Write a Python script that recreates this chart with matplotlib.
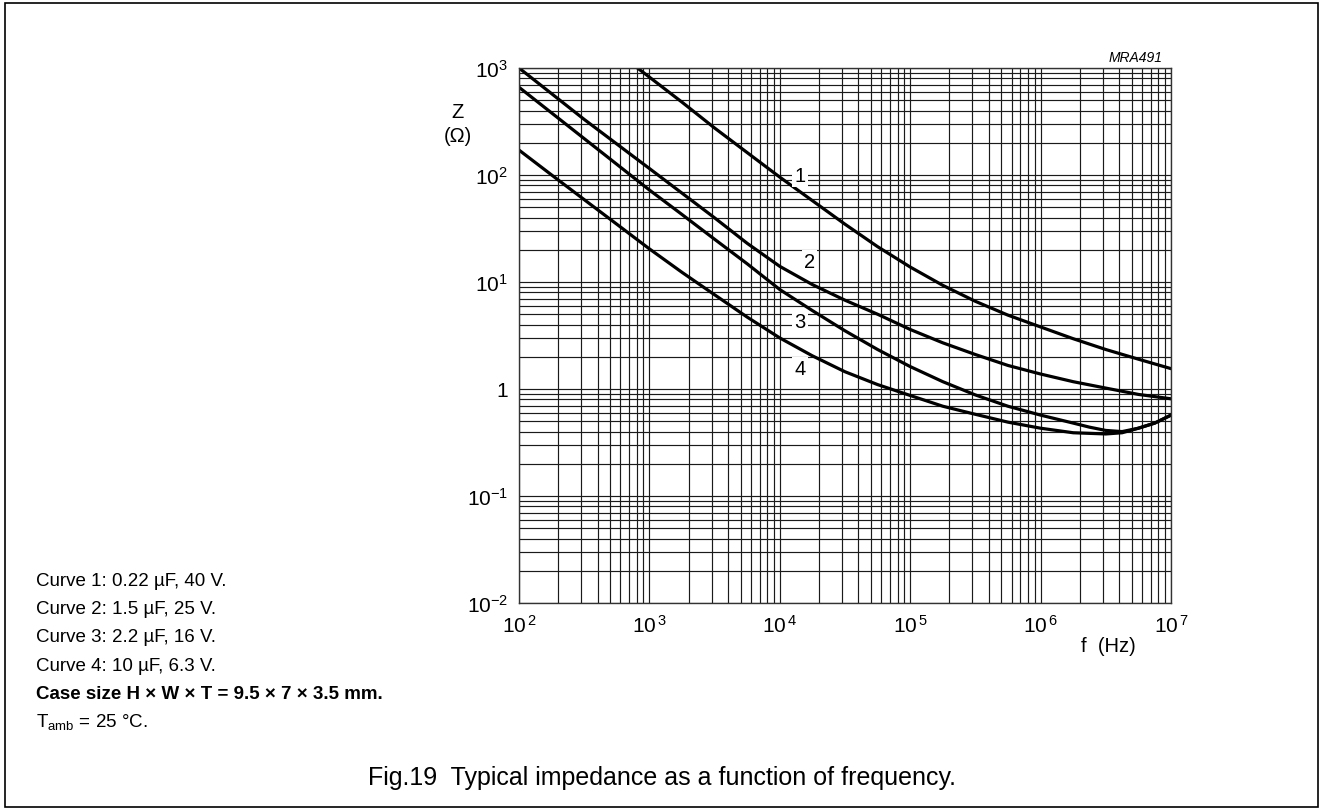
import matplotlib
matplotlib.use('Agg')
import matplotlib.pyplot as plt
from matplotlib.patches import Rectangle
from matplotlib.ticker import LogLocator, NullFormatter

plt.rcParams['font.family'] = ['Liberation Sans', 'DejaVu Sans']
plt.rcParams['mathtext.fontset'] = 'custom'
plt.rcParams['mathtext.rm'] = 'Liberation Sans'
plt.rcParams['mathtext.it'] = 'Liberation Sans:italic'
plt.rcParams['mathtext.bf'] = 'Liberation Sans:bold'

# frequencies (Hz)
freq_1 = [8.1e2, 1.0e3, 1.78e3, 3.16e3, 5.62e3, 1.0e4, 1.78e4, 3.16e4,
          5.62e4, 1.0e5, 1.78e5, 3.16e5, 5.62e5, 1.0e6, 1.78e6, 3.16e6,
          5.62e6, 1.0e7]
freq_2 = [1.0e2, 1.78e2, 3.16e2, 5.62e2, 1.0e3, 1.78e3, 3.16e3, 5.62e3,
          1.0e4, 1.78e4, 3.16e4, 5.62e4, 1.0e5, 1.78e5, 3.16e5, 5.62e5,
          1.0e6, 1.78e6, 3.16e6, 5.62e6, 1.0e7]
freq_34 = [1.0e2, 1.78e2, 3.16e2, 5.62e2, 1.0e3, 1.78e3, 3.16e3, 5.62e3,
           1.0e4, 1.78e4, 3.16e4, 5.62e4, 1.0e5, 1.78e5, 3.16e5, 5.62e5,
           1.0e6, 1.78e6, 2.37e6, 3.16e6, 4.22e6, 5.62e6, 7.5e6, 1.0e7]

# impedance (ohm)
z_curve1 = [1000, 822, 479, 275, 162, 95.5, 57.5, 34.7, 21.4, 13.8, 9.3,
            6.6, 4.9, 3.8, 2.95, 2.34, 1.9, 1.55]
z_curve2 = [1000, 575, 331, 195, 115, 67.6, 39.8, 23.0, 14.0, 9.45, 6.76,
            5.0, 3.6, 2.7, 2.1, 1.66, 1.38, 1.17, 1.02, 0.89, 0.81]
z_curve3 = [661, 380, 219, 126, 72.4, 42.7, 25.1, 14.8, 8.5, 5.4, 3.5,
            2.34, 1.62, 1.17, 0.88, 0.69, 0.57, 0.48, 0.44, 0.41, 0.40,
            0.43, 0.48, 0.57]
z_curve4 = [171, 100, 58.9, 34.7, 20.4, 12.3, 7.6, 4.7, 3.0, 2.04, 1.45,
            1.10, 0.87, 0.69, 0.58, 0.49, 0.43, 0.39, 0.385, 0.38, 0.39,
            0.43, 0.48, 0.57]

curve_labels = ['1', '2', '3', '4']
label_pos = [(1.43e4, 98), (1.7e4, 15.7), (1.43e4, 4.23), (1.43e4, 1.54)]

notes = ['Curve 1: 0.22 \u00b5F, 40 V.',
         'Curve 2: 1.5 \u00b5F, 25 V.',
         'Curve 3: 2.2 \u00b5F, 16 V.',
         'Curve 4: 10 \u00b5F, 6.3 V.']
case_note = 'Case size H \u00d7 W \u00d7 T = 9.5 \u00d7 7 \u00d7 3.5 mm.'
temp_note = 'T$_{\\mathregular{amb}}$ = 25 \u00b0C.'

W, H = 1326, 812
fig = plt.figure(figsize=(W / 100, H / 100), dpi=100)
ax = fig.add_axes([519 / W, 1 - 604 / H, (1171 - 519) / W, (604 - 69) / H])

ax.set_xscale('log')
ax.set_yscale('log')
ax.set_xlim(1e2, 1e7)
ax.set_ylim(1e-2, 1e3)

ax.xaxis.set_minor_locator(LogLocator(base=10, subs=range(2, 10)))
ax.yaxis.set_minor_locator(LogLocator(base=10, subs=range(2, 10)))
ax.xaxis.set_minor_formatter(NullFormatter())
ax.yaxis.set_minor_formatter(NullFormatter())
ax.grid(which='both', color='#1a1a1a', lw=0.85)
ax.set_axisbelow(True)

ax.set_xticks([1e2, 1e3, 1e4, 1e5, 1e6, 1e7])
ax.set_xticklabels([r'$\mathregular{10^{\,%d}}$' % e for e in range(2, 8)])
ax.set_yticks([1e-2, 1e-1, 1, 1e1, 1e2, 1e3])
ax.set_yticklabels([r'$\mathregular{10^{-2}}$', r'$\mathregular{10^{-1}}$', '1',
                    r'$\mathregular{10^{1}}$', r'$\mathregular{10^{2}}$',
                    r'$\mathregular{10^{3}}$'])
ax.tick_params(which='both', length=0, labelsize=15)
ax.tick_params(axis='x', pad=8)
ax.tick_params(axis='y', pad=8)
for s in ax.spines.values():
    s.set_linewidth(1.0)
    s.set_color('#333333')

lw = 2.3
ax.plot(freq_1, z_curve1, color='black', lw=lw)
ax.plot(freq_2, z_curve2, color='black', lw=lw)
ax.plot(freq_34, z_curve3, color='black', lw=lw)
ax.plot(freq_34, z_curve4, color='black', lw=lw)

for lab, (x, y) in zip(curve_labels, label_pos):
    ax.text(x, y, lab, ha='center', va='center', fontsize=14.5, zorder=5,
            bbox=dict(fc='white', ec='none', pad=1.5))

# axis titles
fig.text(458 / W, 1 - 112 / H, 'Z', ha='center', va='center', fontsize=14.5)
fig.text(458 / W, 1 - 137 / H, '(\u03a9)', ha='center', va='center', fontsize=14.5)
fig.text(1081 / W, 1 - 647 / H, 'f  (Hz)', ha='left', va='center', fontsize=14.5)
fig.text(1163 / W, 1 - 62 / H, 'MRA491', ha='right', va='baseline',
         fontsize=10, style='italic')

# notes block
y0 = 586
for i, t in enumerate(notes):
    fig.text(36 / W, 1 - (y0 + 28.2 * i) / H, t, ha='left', va='baseline', fontsize=13.5)
fig.text(36 / W, 1 - (y0 + 28.2 * 4) / H, case_note, ha='left', va='baseline',
         fontsize=13.5, fontweight='bold')
fig.text(36 / W, 1 - (y0 + 28.2 * 5) / H, temp_note, ha='left', va='baseline',
         fontsize=13.5)

fig.text(368 / W, 1 - 785 / H, 'Fig.19  Typical impedance as a function of frequency.',
         ha='left', va='baseline', fontsize=18)

fig.patches.append(Rectangle((5 / W, 4 / H), (1318 - 5) / W, (808 - 4) / H,
                             transform=fig.transFigure, fill=False,
                             edgecolor='black', lw=1.2))

fig.savefig('out.png', dpi=100)
